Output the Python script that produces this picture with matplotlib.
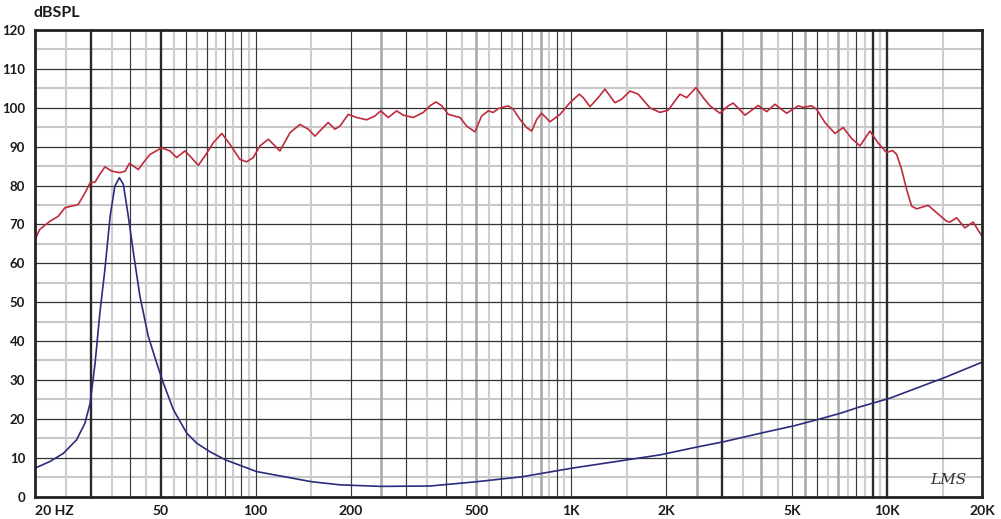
import matplotlib.pyplot as plt
from matplotlib.ticker import NullLocator

# SPL response (red)
spl_freq = [20, 20.7, 22.3, 23.7, 24.9, 26.1, 27.4, 28.8, 29.9, 31.0, 32.1, 33.3, 35.0,
            37.2, 38.6, 39.8, 41.0, 42.5, 44.1, 46.3, 50.4, 53.5, 56.2, 59.7, 61.9,
            65.8, 69.1, 73.4, 78.1, 82.9, 89.2, 93.7, 98.3, 103.2, 109.7, 119.4, 128.5,
            138.2, 146.8, 154.1, 161.8, 169.8, 178.4, 185, 196.5, 208.9, 224.7, 238.8,
            249, 263, 279.7, 293.5, 315.8, 339.6, 356.6, 372.6, 388.6, 407.8, 444, 466,
            495, 520, 546, 566, 587, 631, 655, 688, 722, 749, 777, 805, 856, 921, 990,
            1060, 1091, 1146, 1217, 1278, 1375, 1444, 1534, 1629, 1774, 1909, 2028,
            2209, 2320, 2483, 2618, 2749, 2958, 3142, 3258, 3550, 3910, 4159, 4416,
            4811, 5235, 5430, 5772, 5986, 6360, 6842, 7268, 7727, 8212, 8831, 9382,
            9972, 10420, 10730, 11130, 11540, 11970, 12410, 13510, 14180, 15450,
            15830, 16620, 17650, 18750, 19940]
spl_db = [66.1, 68.7, 70.8, 72.1, 74.3, 74.7, 75.1, 78.1, 80.7, 80.9, 82.9, 84.8, 83.7,
          83.3, 83.7, 85.7, 85.0, 84.1, 85.9, 88.0, 89.7, 88.9, 87.2, 88.9, 87.6,
          85.2, 87.6, 91.0, 93.4, 90.6, 86.7, 86.1, 87.2, 90.2, 91.9, 88.9, 93.6,
          95.7, 94.5, 92.7, 94.5, 96.2, 94.5, 95.3, 98.3, 97.5, 96.9, 97.9,
          99.2, 97.5, 99.2, 98.1, 97.5, 98.8, 100.5, 101.5, 100.5, 98.3, 97.5, 95.3,
          93.8, 97.9, 99.2, 98.8, 99.8, 100.5, 99.6, 97.0, 94.9, 94.0, 97.0, 98.6, 96.4, 98.3, 101.3,
          103.5, 102.6, 100.3, 102.6, 104.8, 101.3, 102.2, 104.3, 103.5, 100.0, 98.8, 99.4,
          103.5, 102.6, 105.2, 102.6, 100.5, 98.6, 100.5, 101.2, 98.1, 100.6, 99.0, 100.9,
          98.6, 100.5, 100.1, 100.5, 99.6, 96.2, 93.4, 94.9, 92.1, 90.2, 94.0, 90.9,
          88.5, 89.0, 88.0, 84.1, 79.0, 74.7, 74.0, 74.9, 73.4, 70.8,
          70.6, 71.7, 69.1, 70.6, 67.1]

# impedance (blue)
imp_freq = [20, 22.3, 24.6, 27.1, 28.8, 29.9, 31.0, 32.1, 33.3, 34.6, 35.8, 37.0, 38.1,
            39.5, 41.0, 43.0, 45.7, 48.6, 51.0, 54.9, 60.5, 65.1, 71.7, 80.4, 100.8,
            150.5, 185, 249, 356.6, 501, 701, 1007, 1909, 2492, 3044, 4036, 5083,
            6100, 7108, 8166, 10220, 15340, 19940]
imp_val = [7.3, 9.0, 11.1, 14.6, 18.9, 24.0, 34.3, 47.2, 58.4, 72.1, 79.8, 82.0, 80.3,
           72.1, 62.7, 51.5, 41.2, 34.3, 29.2, 22.3, 16.3, 13.7, 11.5, 9.4, 6.4,
           3.8, 3.0, 2.6, 2.7, 3.8, 5.1, 7.3, 10.7, 12.7, 14.1, 16.4, 18.2,
           19.9, 21.4, 23.0, 25.3, 30.7, 34.5]

x_ticks = [20, 50, 100, 200, 500, 1000, 2000, 5000, 10000, 20000]
x_labels = ['20 HZ', '50', '100', '200', '500', '1K', '2K', '5K', '10K', '20K']
y_ticks = list(range(0, 121, 10))

# vertical grid, the way the printed chart has it
v_dark = [40, 60, 70, 80, 90, 100, 200, 300, 400, 600, 700, 900, 1000, 2000,
          5000, 6000, 8000]
v_thick = [30, 50, 3000, 9000, 10000]
v_mid = [250, 500, 800, 2500, 4000, 5500, 7000]
v_light = [25, 35, 45, 55, 65, 75, 85, 95, 150, 350, 450, 550, 650, 750, 850, 950,
           1500, 3500, 4500, 6500, 7500, 8500, 9500, 15000]

plt.rcParams['font.family'] = ['Lato', 'DejaVu Sans']

fig = plt.figure(figsize=(10.01, 5.19), dpi=100)
ax = fig.add_axes([35 / 1001, 0.04335, 947 / 1001, 0.8988])
ax.set_xscale('log')
ax.set_xlim(20, 20000)
ax.set_ylim(0, 120)

for v in range(5, 120, 10):
    ax.axhline(v, color='#c8c8c8', lw=1.5, zorder=1)
for v in range(10, 120, 10):
    ax.axhline(v, color='#333333', lw=0.9, zorder=2)
for f in v_light:
    ax.axvline(f, color='#cdcdcd', lw=1.5, zorder=1)
for f in v_mid:
    ax.axvline(f, color='#ababab', lw=1.9, zorder=1)
for f in v_dark:
    ax.axvline(f, color='#3a3a3a', lw=0.85, zorder=2)
for f in v_thick:
    ax.axvline(f, color='#2a2a2a', lw=1.7, zorder=2)

ax.plot(spl_freq, spl_db, color='#bf2b3d', lw=1.2, zorder=4)
ax.plot(imp_freq, imp_val, color='#2b2c7c', lw=1.2, zorder=4)

ax.xaxis.set_minor_locator(NullLocator())
ax.set_xticks(x_ticks)
ax.set_xticklabels(x_labels)
ax.set_yticks(y_ticks)
ax.tick_params(length=0, labelsize=9.5, colors='#1a1a1a')
ax.tick_params(axis='x', pad=6, labelsize=10)
ax.tick_params(axis='y', pad=7)
for lab in ax.get_xticklabels() + ax.get_yticklabels():
    lab.set_fontweight('bold')
ax.get_xticklabels()[0].set_ha('left')

for s in ax.spines.values():
    s.set_linewidth(2.0)
    s.set_color('#222222')
    s.set_zorder(5)

fig.text(33 / 1001, 1 - 13 / 519, 'dBSPL', ha='left', va='center',
         fontsize=11.5, fontweight='bold', color='#1a1a1a')
ax.text(0.965, 0.035, 'LMS', transform=ax.transAxes, ha='center', va='center',
        fontsize=11, style='italic', family='DejaVu Serif', color='#333333')

fig.savefig('out.png', dpi=100)
